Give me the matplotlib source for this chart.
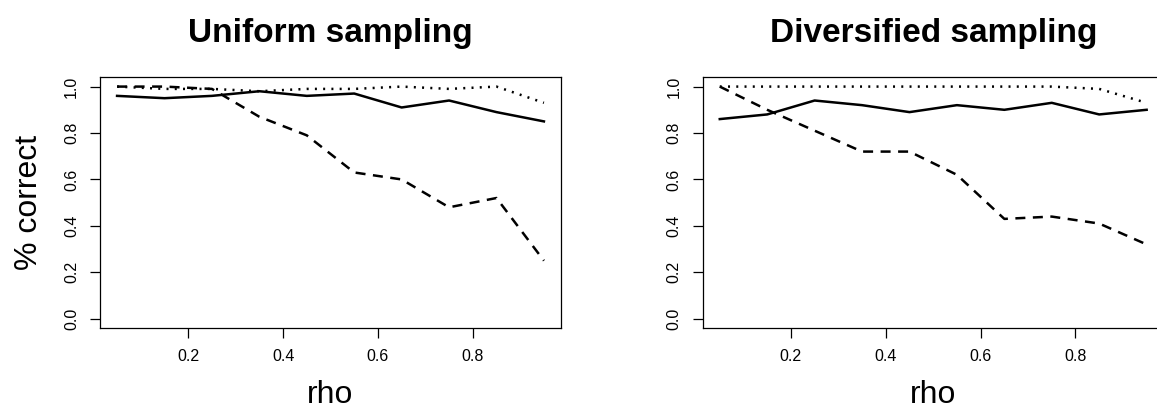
import numpy as np
import matplotlib
matplotlib.use("Agg")
import matplotlib.pyplot as plt

plt.rcParams['font.family'] = ['Liberation Sans', 'DejaVu Sans']

# rho values (same for both panels)
rho = [0.05, 0.15, 0.25, 0.35, 0.45, 0.55, 0.65, 0.75, 0.85, 0.95]

# Uniform sampling
uni_solid = [0.96, 0.95, 0.96, 0.98, 0.96, 0.97, 0.91, 0.94, 0.89, 0.85]
uni_dashed = [1.00, 1.00, 0.99, 0.87, 0.79, 0.63, 0.60, 0.48, 0.52, 0.25]
uni_dotted = [1.00, 0.99, 0.99, 0.98, 0.99, 0.99, 1.00, 0.99, 1.00, 0.93]

# Diversified sampling
div_solid = [0.86, 0.88, 0.94, 0.92, 0.89, 0.92, 0.90, 0.93, 0.88, 0.90]
div_dashed = [1.00, 0.90, 0.81, 0.72, 0.72, 0.62, 0.43, 0.44, 0.41, 0.32]
div_dotted = [1.00, 1.00, 1.00, 1.00, 1.00, 1.00, 1.00, 1.00, 0.99, 0.93]

titles = ["Uniform sampling", "Diversified sampling"]
xticks = [0.2, 0.4, 0.6, 0.8]
yticks = [0.0, 0.2, 0.4, 0.6, 0.8, 1.0]

W, H = 1157, 409
fig = plt.figure(figsize=(W / 100, H / 100), dpi=100)

panels = [
    (100, uni_solid, uni_dashed, uni_dotted),
    (702.7, div_solid, div_dashed, div_dotted),
]

lw = 1.8
for i, (left_px, solid, dashed, dotted) in enumerate(panels):
    ax = fig.add_axes([left_px / W, 81 / H, 461 / W, 250.7 / H])
    ax.plot(rho, solid, color='black', lw=lw, solid_joinstyle='round')
    ax.plot(rho, dashed, color='black', lw=lw, dashes=(4, 3), dash_capstyle='butt')
    ax.plot(rho, dotted, color='black', lw=lw, dashes=(0.8, 2.5), dash_capstyle='butt')

    ax.set_xlim(0.014, 0.986)
    ax.set_ylim(-0.04, 1.04)
    ax.set_xticks(xticks)
    ax.set_xticklabels([f"{t:.1f}" for t in xticks])
    ax.set_yticks(yticks)
    ax.set_yticklabels([f"{t:.1f}" for t in yticks])
    ax.tick_params(axis='both', length=7.2, width=0.9, labelsize=11.5, pad=8, direction='out')
    ax.tick_params(axis='y', labelrotation=90)
    for lab in ax.get_yticklabels():
        lab.set_va('center')
    for s in ax.spines.values():
        s.set_linewidth(0.9)

    cx = (left_px + 230.5) / W
    fig.text(cx, 1 - 42 / H, titles[i], ha='center', va='baseline',
             fontsize=24, fontweight='bold')
    fig.text(cx, 6 / H, "rho", ha='center', va='baseline', fontsize=23)

fig.text(37 / W, 1 - 202.6 / H, "% correct", rotation=90, rotation_mode='anchor',
         ha='center', va='baseline', fontsize=23)

fig.savefig("out.png", dpi=100)
